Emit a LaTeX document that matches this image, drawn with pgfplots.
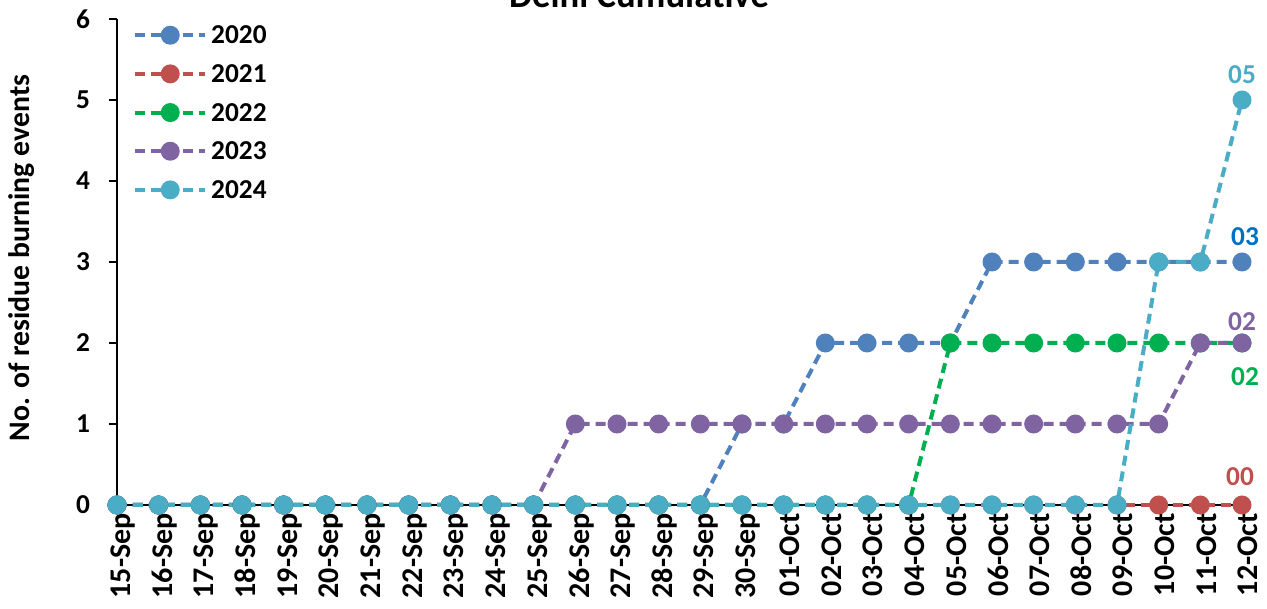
\documentclass[border=0pt]{standalone}
\usepackage{fontspec}
\setmainfont{Carlito}
\usepackage{pgfplots}
\pgfplotsset{compat=1.18}
\definecolor{c2020}{RGB}{79,129,189}
\definecolor{c2021}{RGB}{192,80,77}
\definecolor{c2022}{RGB}{0,176,80}
\definecolor{c2023}{RGB}{128,100,162}
\definecolor{c2024}{RGB}{75,172,198}
\definecolor{lab2020}{RGB}{0,112,192}
\newcommand{\lbl}{\fontsize{20.5}{24}\selectfont\bfseries}
\newcommand{\xlbl}{\fontsize{22.5}{26}\selectfont\bfseries}
\begin{document}
\begin{tikzpicture}
\begin{axis}[
  name=ax,
  scale only axis,
  width=843.75pt, height=364.5pt,
  xmin=0, xmax=27, ymin=0, ymax=6,
  clip=false,
  axis x line*=bottom, axis y line*=left,
  axis line style={black, line width=1pt, -},
  xtick={0,...,27},
  xticklabels={15-Sep,16-Sep,17-Sep,18-Sep,19-Sep,20-Sep,21-Sep,22-Sep,23-Sep,24-Sep,25-Sep,26-Sep,27-Sep,28-Sep,29-Sep,30-Sep,01-Oct,02-Oct,03-Oct,04-Oct,05-Oct,06-Oct,07-Oct,08-Oct,09-Oct,10-Oct,11-Oct,12-Oct},
  ytick={0,...,6},
  tick align=outside,
  major tick length=6pt,
  tick style={black, line width=1pt},
  yticklabel style={font=\lbl},
  xticklabel style={font=\xlbl},
  /pgf/number format/assume math mode=true,
  x tick label style={rotate=90, anchor=east, inner sep=0pt, yshift=-4.5pt},
  y tick label style={anchor=east, inner sep=0pt, xshift=-14pt},
  ylabel={No. of residue burning events},
  ylabel style={font=\fontsize{22.3}{26}\selectfont\bfseries, at={(rel axis cs:-0.0844,0.508)}, anchor=center},
  legend style={at={(rel axis cs:0.0142,0.985)}, anchor=north west, draw=none, fill=none,
    inner sep=0pt, row sep=16pt, font=\lbl,
    nodes={inner sep=0pt, text height=13pt, text depth=0pt}},
  legend cell align=left,
  legend image code/.code={%
    \draw[mark repeat=2, mark phase=2, #1] plot coordinates {(0pt,0pt) (26.25pt,0pt) (52.5pt,0pt)};
    \path (55.5pt,0pt);},
  every axis plot/.append style={line width=3pt, dash pattern=on 7.5pt off 4.5pt,
    mark=*, mark size=5.6pt, mark options={solid}},
]
% 2020
\addplot[color=c2020] coordinates {
  (0,0) (1,0) (2,0) (3,0) (4,0) (5,0) (6,0) (7,0) (8,0) (9,0) (10,0) (11,0) (12,0) (13,0)
  (14,0) (15,1) (16,1) (17,2) (18,2) (19,2) (20,2) (21,3) (22,3) (23,3) (24,3) (25,3) (26,3) (27,3)};
% 2021
\addplot[color=c2021] coordinates {
  (0,0) (1,0) (2,0) (3,0) (4,0) (5,0) (6,0) (7,0) (8,0) (9,0) (10,0) (11,0) (12,0) (13,0)
  (14,0) (15,0) (16,0) (17,0) (18,0) (19,0) (20,0) (21,0) (22,0) (23,0) (24,0) (25,0) (26,0) (27,0)};
% 2022
\addplot[color=c2022] coordinates {
  (0,0) (1,0) (2,0) (3,0) (4,0) (5,0) (6,0) (7,0) (8,0) (9,0) (10,0) (11,0) (12,0) (13,0)
  (14,0) (15,0) (16,0) (17,0) (18,0) (19,0) (20,2) (21,2) (22,2) (23,2) (24,2) (25,2) (26,2) (27,2)};
% 2023
\addplot[color=c2023] coordinates {
  (0,0) (1,0) (2,0) (3,0) (4,0) (5,0) (6,0) (7,0) (8,0) (9,0) (10,0) (11,1) (12,1) (13,1)
  (14,1) (15,1) (16,1) (17,1) (18,1) (19,1) (20,1) (21,1) (22,1) (23,1) (24,1) (25,1) (26,2) (27,2)};
% 2024
\addplot[color=c2024] coordinates {
  (0,0) (1,0) (2,0) (3,0) (4,0) (5,0) (6,0) (7,0) (8,0) (9,0) (10,0) (11,0) (12,0) (13,0)
  (14,0) (15,0) (16,0) (17,0) (18,0) (19,0) (20,0) (21,0) (22,0) (23,0) (24,0) (25,3) (26,3) (27,5)};
\legend{2020,2021,2022,2023,2024}
\node[font=\lbl, text=c2024] at (axis cs:27,5) [yshift=18.75pt] {05};
\node[font=\lbl, text=lab2020] at (axis cs:27,3) [xshift=2.25pt, yshift=18.75pt] {03};
\node[font=\lbl, text=c2023] at (axis cs:27,2) [yshift=15.75pt] {02};
\node[font=\lbl, text=c2022] at (axis cs:27,2) [xshift=2.25pt, yshift=-25.5pt] {02};
\node[font=\lbl, text=c2021] at (axis cs:27,0) [xshift=-1.5pt, yshift=21pt] {00};
\end{axis}
\node[font=\fontsize{27.5}{32}\selectfont\bfseries, anchor=base]
  at ([shift={(391.5pt,372.75pt)}]ax.south west) {Delhi Cumulative};
\pgfresetboundingbox
\path[use as bounding box] ([shift={(-87.75pt,-78pt)}]ax.south west)
  rectangle ([shift={(862.5pt,378.75pt)}]ax.south west);
\end{tikzpicture}
\end{document}
